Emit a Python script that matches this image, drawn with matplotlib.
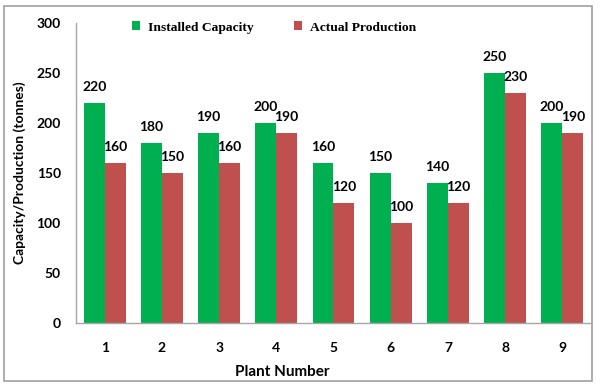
import numpy as np
import matplotlib.pyplot as plt
from matplotlib.patches import Rectangle

# data
plants = ["1", "2", "3", "4", "5", "6", "7", "8", "9"]
installed = [220, 180, 190, 200, 160, 150, 140, 250, 200]
actual = [160, 150, 160, 190, 120, 100, 120, 230, 190]

green = "#00B050"
red = "#C0504D"
tick_font = "Lato"

fig = plt.figure(figsize=(6.14, 3.88), dpi=100)
ax = fig.add_axes([0.1238, 0.1675, 0.8387, 0.7732])

x = np.arange(len(plants))
w = 0.365
b1 = ax.bar(x - w / 2, installed, w, color=green, label="Installed Capacity")
b2 = ax.bar(x + w / 2, actual, w, color=red, label="Actual Production")

for bars in (b1, b2):
    for rect in bars:
        ax.annotate(f"{rect.get_height():.0f}",
                    (rect.get_x() + rect.get_width() / 2, rect.get_height()),
                    xytext=(0, 7), textcoords="offset points",
                    ha="center", va="bottom", fontsize=10,
                    fontweight="bold", family=tick_font)

ax.set_xlim(-0.5, len(plants) - 0.5)
ax.set_ylim(0, 300)
ax.set_yticks(range(0, 301, 50))
ax.set_xticks(x)
ax.set_xticklabels(plants)
ax.tick_params(length=0, pad=14, labelsize=10)
ax.tick_params(axis="y", pad=11)
for lab in ax.get_xticklabels() + ax.get_yticklabels():
    lab.set_fontweight("bold")
    lab.set_family(tick_font)

for s in ("top", "right"):
    ax.spines[s].set_visible(False)
for s in ("left", "bottom"):
    ax.spines[s].set_color("#a6a6a6")
    ax.spines[s].set_linewidth(1.0)

ax.set_xlabel("Plant Number", fontsize=11, fontweight="bold", family=tick_font)
ax.xaxis.set_label_coords(0.4, -0.14)
ax.set_ylabel("Capacity/Production (tonnes)", fontsize=10, fontweight="bold",
              family=tick_font)
ax.yaxis.set_label_coords(-0.097, 0.5)

leg = ax.legend(loc="center", bbox_to_anchor=(0.385, 0.985), ncol=2,
                frameon=False, handlelength=0.6, handleheight=0.6,
                handletextpad=0.6, columnspacing=3.0,
                prop={"family": "Liberation Serif", "weight": "bold", "size": 9.7})

# outer chart border
fig.patches.append(Rectangle((4 / 614, 7 / 388), 588 / 614, 375 / 388,
                             transform=fig.transFigure, fill=False,
                             edgecolor="#a0a0a0", linewidth=1.2))

fig.savefig("out.png", dpi=100)
